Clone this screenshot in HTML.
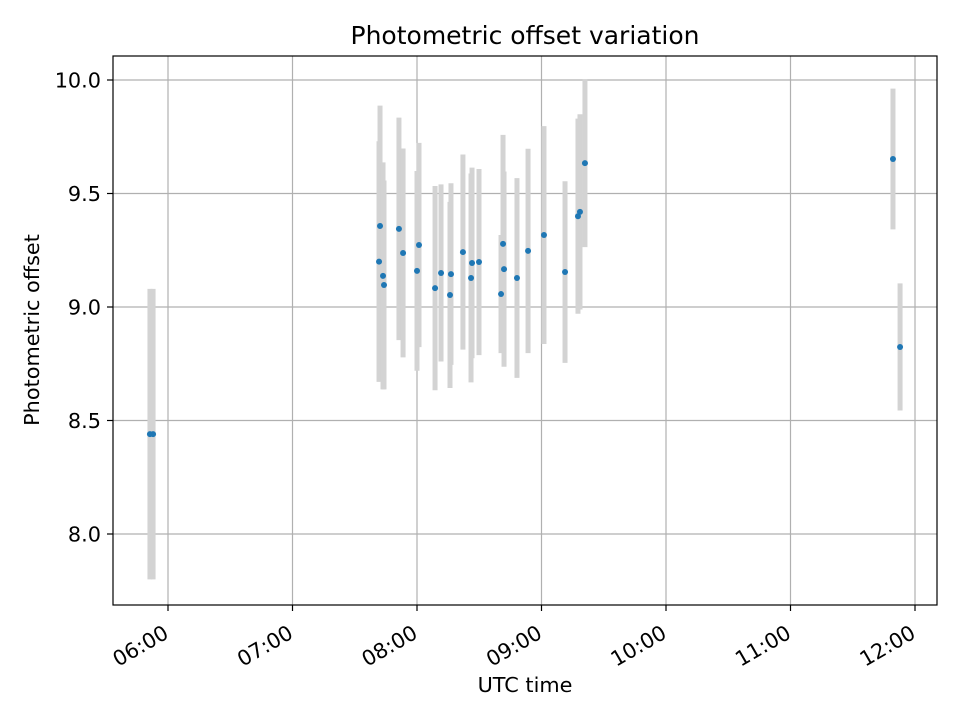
<!DOCTYPE html>
<html><head><meta charset="utf-8"><style>
body{margin:0;background:#fff}
svg text{font-family:"DejaVu Sans","Liberation Sans",sans-serif;fill:#000}
</style></head><body>
<svg id="chart" width="960" height="720" xmlns="http://www.w3.org/2000/svg">
<rect width="960" height="720" fill="#fff"/>
<text x="525" y="44" text-anchor="middle" style="font-size:25px">Photometric offset variation</text>
<text x="525" y="692" text-anchor="middle" style="font-size:20.8px">UTC time</text>
<text x="39" y="330" text-anchor="middle" style="font-size:20.8px" transform="rotate(-90 39 330)">Photometric offset</text>
<g id="grid"></g><g id="bars"></g><g id="pts"></g><g id="axes"></g>
<rect x="113" y="56" width="824" height="549" fill="none" stroke="#000" stroke-width="1.2"/>
</svg>
<script>
const times=[5.855,5.88,7.695,7.703,7.727,7.735,7.855,7.888,8.016,8.0,8.145,8.193,8.273,8.265,8.369,8.442,8.434,8.498,8.691,8.699,8.675,8.803,8.892,9.02,9.189,9.293,9.309,9.349,11.823,11.88];
const values=[8.44,8.44,9.20,9.357,9.137,9.097,9.344,9.238,9.273,9.159,9.083,9.150,9.145,9.053,9.242,9.194,9.128,9.198,9.278,9.167,9.057,9.128,9.247,9.317,9.154,9.40,9.419,9.634,9.652,8.824];
const errors=[0.64,0.64,0.53,0.53,0.5,0.46,0.49,0.46,0.45,0.44,0.45,0.39,0.40,0.41,0.43,0.42,0.46,0.41,0.48,0.43,0.26,0.44,0.45,0.48,0.40,0.43,0.43,0.37,0.31,0.28];
const yTicks=[8.0,8.5,9.0,9.5,10.0];
const xTicks=[6,7,8,9,10,11,12];
const xTickLabels=["06:00","07:00","08:00","09:00","10:00","11:00","12:00"];
const X=h=>168+(h-6)*124.5;
const Y=v=>534-(v-8)*227;
const NS="http://www.w3.org/2000/svg";
function mk(tag,attrs,parent){const e=document.createElementNS(NS,tag);for(const k in attrs)e.setAttribute(k,attrs[k]);document.getElementById(parent).appendChild(e);return e;}
yTicks.forEach((t,i)=>{
 const l=mk('line',{x1:113,x2:937,y1:Y(t),y2:Y(t),stroke:'#b0b0b0','stroke-width':1.2},'grid');
 
 
 const tk=mk('line',{x1:107,x2:113,y1:Y(t),y2:Y(t),stroke:'#000','stroke-width':1.2},'axes');
 
 
 const tx=mk('text',{x:101,y:Y(t)+7.5,'text-anchor':'end',style:'font-size:20.8px'},'axes');
 tx.textContent=t.toFixed(1);
 
 
});
xTicks.forEach((t,i)=>{
 const l=mk('line',{x1:X(t),x2:X(t),y1:56,y2:605,stroke:'#b0b0b0','stroke-width':1.2},'grid');
 
 
 const tk=mk('line',{x1:X(t),x2:X(t),y1:605,y2:611,stroke:'#000','stroke-width':1.2},'axes');
 
 
 const ax=X(t)+2, ay=637;
 const tx=mk('text',{x:ax,y:ay,'text-anchor':'end',style:'font-size:20.8px',transform:`rotate(-30 ${ax} ${ay})`},'axes');
 tx.textContent=xTickLabels[i];
 
 
});
times.forEach((t,i)=>{
 const b=mk('line',{x1:X(t),x2:X(t),y1:Y(values[i]+errors[i]),y2:Y(values[i]-errors[i]),stroke:'#d3d3d3','stroke-width':5},'bars');
 
 
 const c=mk('circle',{cx:X(t),cy:Y(values[i]),r:3,fill:'#1f77b4'},'pts');
 
 
});
</script>
</body></html>
